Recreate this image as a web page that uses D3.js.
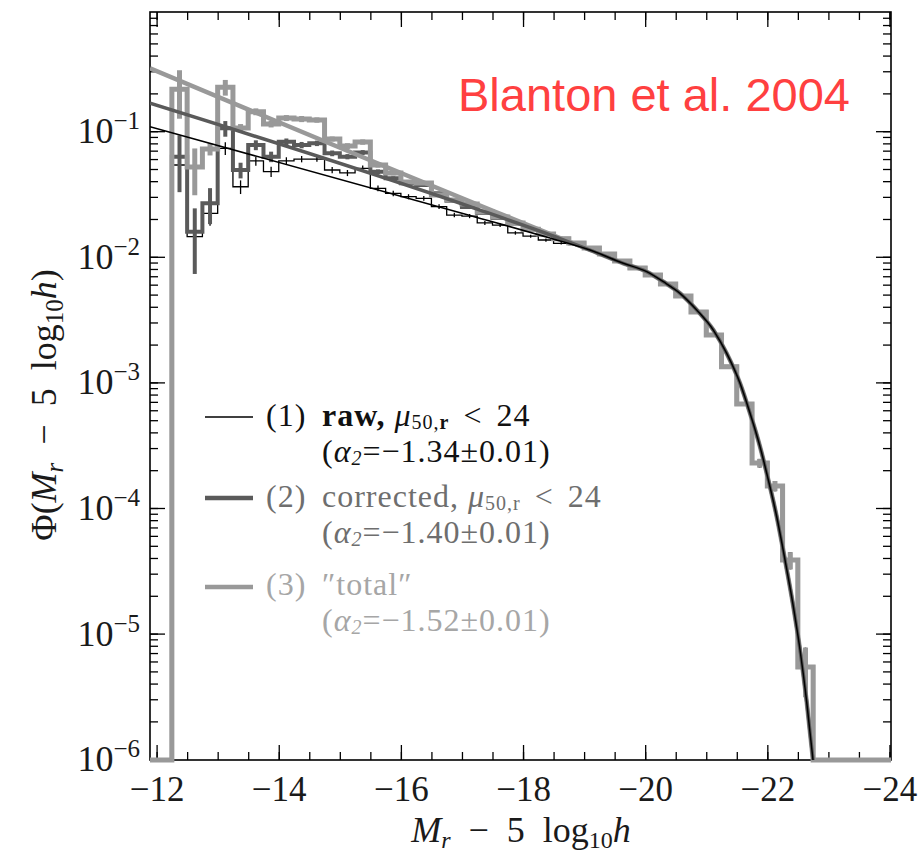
<!DOCTYPE html>
<html>
<head>
<meta charset="utf-8">
<script src="https://cdn.jsdelivr.net/npm/d3@7"></script>
<style>
  html, body { margin: 0; padding: 0; background: #fff; }
  svg { display: block; }
</style>
</head>
<body>
<svg id="chart" width="924" height="854"></svg>
<script>
// Galaxy luminosity function, 0.25 mag bins in M_r - 5 log10 h
const magBins = [
  -12.375, -12.625, -12.875, -13.125, -13.375, -13.625, -13.875, -14.125, -14.375, -14.625,
  -14.875, -15.125, -15.375, -15.625, -15.875, -16.125, -16.375, -16.625, -16.875, -17.125,
  -17.375, -17.625, -17.875, -18.125, -18.375, -18.625, -18.875, -19.125, -19.375, -19.625,
  -19.875, -20.125, -20.375, -20.625, -20.875, -21.125, -21.375, -21.625, -21.875, -22.125,
  -22.375, -22.625
];
const binWidth = 0.25;

// (1) raw, mu_50 < 24
const phiRaw = [
  0.0538, 0.0145, 0.0222, 0.0731, 0.0361, 0.0580, 0.0476, 0.0580, 0.0600, 0.0600,
  0.0491, 0.0465, 0.0506, 0.0351, 0.0320, 0.0301, 0.0292, 0.0251, 0.0215, 0.0211,
  0.0186, 0.0179, 0.0155, 0.0146, 0.0136, 0.0128, 0.0125, 0.01175, 0.01053, 0.00926,
  0.00814, 0.00716, 0.00607, 0.00487, 0.00363, 0.00238, 0.00133, 0.000673, 0.000228, 0.000150,
  3.85e-5, 5.42e-6
];
const errRaw = [
  0.010, 0.003, 0.0045, 0.0085, 0.0045, 0.005, 0.0045, 0.004, 0.0035, 0.003,
  0.0028, 0.0026, 0.0026, 0.0018, 0.0016, 0.0014, 0.0013, 0.0011, 0.0009, 0.0008,
  0.0007, 0.0006, 0.0005, 0.0004, 0.0004, 0.0003, 0.00025, 0.00014, 0.00012, 0.0001,
  0.00009, 0.00008, 0.00007, 0.00006, 0.00005, 0.00004, 0.00003, 0.00002, 0.000018, 0.000014,
  0.000006, 0.0000023
];

// (2) corrected, mu_50 < 24
const phiCorrected = [
  0.0627, 0.0158, 0.0267, 0.1054, 0.0491, 0.0776, 0.0627, 0.0825, 0.0776, 0.0801,
  0.0667, 0.0627, 0.0677, 0.0476, 0.0422, 0.0385, 0.0373, 0.0320, 0.0280, 0.0249,
  0.0223, 0.0204, 0.0184, 0.0165, 0.0151, 0.0139, 0.0129, 0.01175, 0.01053, 0.00926,
  0.00814, 0.00716, 0.00607, 0.00487, 0.00363, 0.00238, 0.00133, 0.000673, 0.000228, 0.000150,
  3.85e-5, 5.42e-6
];
const errCorrected = [
  0.030, 0.0085, 0.0085, 0.015, 0.007, 0.007, 0.006, 0.005, 0.0045, 0.004,
  0.0035, 0.003, 0.003, 0.002, 0.0015, 0.0012, 0.001, 0.0008, 0.0006, 0.0005,
  0.0004, 0.0003, 0.00025, 0.0002, 0.0002, 0.00018, 0.00016, 0.00014, 0.00012, 0.0001,
  0.00009, 0.00008, 0.00007, 0.00006, 0.00005, 0.00004, 0.00003, 0.00002, 0.000018, 0.000014,
  0.000006, 0.0000023
];

// (3) "total"
const phiTotal = [
  0.2157, 0.0519, 0.0721, 0.2239, 0.1060, 0.1430, 0.1141, 0.1274, 0.1251, 0.1228,
  0.0867, 0.0762, 0.0820, 0.0538, 0.0465, 0.0394, 0.0387, 0.0310, 0.0283, 0.0263,
  0.0227, 0.0207, 0.0186, 0.0166, 0.0152, 0.0139, 0.0129, 0.01175, 0.01053, 0.00926,
  0.00814, 0.00716, 0.00607, 0.00487, 0.00363, 0.00238, 0.00133, 0.000673, 0.000228, 0.000150,
  3.85e-5, 5.42e-6
];
const errTotal = [
  0.090, 0.021, 0.008, 0.032, 0.008, 0.009, 0.007, 0.007, 0.007, 0.006,
  0.004, 0.004, 0.004, 0.0025, 0.002, 0.0015, 0.0012, 0.0009, 0.0007, 0.0006,
  0.0005, 0.0004, 0.0003, 0.00025, 0.0002, 0.00018, 0.00016, 0.00014, 0.00012, 0.0001,
  0.00009, 0.00008, 0.00007, 0.00006, 0.00005, 0.00004, 0.00003, 0.00002, 0.000018, 0.000014,
  0.000006, 0.0000023
];

// Double-Schechter fits sampled as [M, Phi]: faint-end parts, then the common bright end
const fitRawFaint = [[-11.892, 0.1086], [-17.132, 0.02132], [-18.606, 0.01336]];
const fitCorrectedFaint = [[-11.892, 0.1668], [-17.132, 0.02506], [-18.606, 0.01398]];
const fitTotalFaint = [[-11.892, 0.3168], [-18.606, 0.01411]];
const fitBright = [
  [-19.097, 0.01132], [-19.642, 0.00888], [-20.025, 0.00761], [-20.297, 0.00633],
  [-20.570, 0.00512], [-20.844, 0.00377], [-21.116, 0.00261], [-21.335, 0.00170],
  [-21.553, 0.000984], [-21.717, 0.000568], [-21.880, 0.000308], [-21.990, 0.000189],
  [-22.154, 8.52e-5], [-22.290, 3.85e-5], [-22.426, 1.64e-5], [-22.536, 7.40e-6],
  [-22.645, 2.85e-6], [-22.748, 9.85e-7], [-22.797, 5.69e-7]
];

const xMajorTicks = [-12, -14, -16, -18, -20, -22, -24];
const xMinorTicks = [-12, -12.5, -13, -13.5, -14, -14.5, -15, -15.5, -16, -16.5, -17, -17.5,
  -18, -18.5, -19, -19.5, -20, -20.5, -21, -21.5, -22, -22.5, -23, -23.5, -24];
const yMajorTicks = [1e-6, 1e-5, 1e-4, 1e-3, 1e-2, 1e-1];

// ---- layout & styles ----
const serif = '"Liberation Serif", "Times New Roman", serif';
const plot = { left: 150, right: 891, top: 12, bottom: 760 };
const colRaw = "#000000", colCorr = "#5a5a5a", colTot = "#999999";

const svg = d3.select("#chart");

const x = d3.scaleLinear().domain([-11.892, -24.025]).range([plot.left, plot.right]);
const y = d3.scaleLog().domain([Math.pow(10, -6.0064), Math.pow(10, -0.051)]).range([plot.bottom, plot.top]);
const floorVal = y.domain()[0];

// ---- axes (ticks pointing inward on all four sides) ----
function styleAxis(g, width) {
  g.attr("font-family", null).attr("font-size", null);
  g.select(".domain").remove();
  g.selectAll(".tick line").attr("stroke", "#000").attr("stroke-width", width);
}
const axes = svg.append("g");

axes.append("g").attr("transform", `translate(0,${plot.bottom})`)
  .call(d3.axisBottom(x).tickValues(xMinorTicks).tickSizeInner(-8).tickSizeOuter(0).tickFormat(""))
  .call(g => styleAxis(g, 1.3));
const xLab = axes.append("g").attr("transform", `translate(0,${plot.bottom})`)
  .call(d3.axisBottom(x).tickValues(xMajorTicks).tickSizeInner(-15).tickSizeOuter(0).tickPadding(16).tickFormat(d3.format("d")))
  .call(g => styleAxis(g, 1.3));
xLab.selectAll(".tick text").attr("font-family", serif).attr("font-size", 35).attr("fill", "#1a1a1a");

axes.append("g").attr("transform", `translate(0,${plot.top})`)
  .call(d3.axisTop(x).tickValues(xMinorTicks).tickSizeInner(-8).tickSizeOuter(0).tickFormat(""))
  .call(g => styleAxis(g, 1.3));
axes.append("g").attr("transform", `translate(0,${plot.top})`)
  .call(d3.axisTop(x).tickValues(xMajorTicks).tickSizeInner(-15).tickSizeOuter(0).tickFormat(""))
  .call(g => styleAxis(g, 1.3));

const yAll = y.ticks();
axes.append("g").attr("transform", `translate(${plot.left},0)`)
  .call(d3.axisLeft(y).tickValues(yAll).tickSizeInner(-8).tickSizeOuter(0).tickFormat(""))
  .call(g => styleAxis(g, 1.3));
const yLab = axes.append("g").attr("transform", `translate(${plot.left},0)`)
  .call(d3.axisLeft(y).tickValues(yMajorTicks).tickSizeInner(-15).tickSizeOuter(0).tickPadding(10).tickFormat(() => "10"))
  .call(g => styleAxis(g, 1.3));
yLab.selectAll(".tick text")
  .attr("font-family", serif).attr("font-size", 36).attr("fill", "#1a1a1a")
  .append("tspan").attr("dy", -14).attr("font-size", 25)
  .text(d => "\u2212" + Math.round(-Math.log10(d)));

axes.append("g").attr("transform", `translate(${plot.right},0)`)
  .call(d3.axisRight(y).tickValues(yAll).tickSizeInner(-8).tickSizeOuter(0).tickFormat(""))
  .call(g => styleAxis(g, 1.3));
axes.append("g").attr("transform", `translate(${plot.right},0)`)
  .call(d3.axisRight(y).tickValues(yMajorTicks).tickSizeInner(-15).tickSizeOuter(0).tickFormat(""))
  .call(g => styleAxis(g, 1.3));

svg.append("rect")
  .attr("x", plot.left).attr("y", plot.top)
  .attr("width", plot.right - plot.left).attr("height", plot.bottom - plot.top)
  .attr("fill", "none").attr("stroke", "#000").attr("stroke-width", 1.6);

// ---- histograms with error bars ----
function stepPoints(vals) {
  const pts = [[x.domain()[0], floorVal], [magBins[0] + binWidth / 2, floorVal]];
  magBins.forEach((m, i) => {
    pts.push([m + binWidth / 2, vals[i]], [m - binWidth / 2, vals[i]]);
  });
  const lastEdge = magBins[magBins.length - 1] - binWidth / 2;
  pts.push([lastEdge, floorVal], [x.domain()[1], floorVal]);
  return pts;
}
const stepLine = d3.line().x(d => x(d[0])).y(d => y(Math.max(d[1], floorVal)));

function drawHistogram(vals, errs, color, width) {
  const g = svg.append("g");
  g.append("path")
    .attr("d", stepLine(stepPoints(vals)))
    .attr("fill", "none").attr("stroke", color).attr("stroke-width", width)
    .attr("stroke-linejoin", "miter").attr("stroke-linecap", "butt");
  g.selectAll("line")
    .data(magBins.map((m, i) => ({ m, v: vals[i], e: errs[i] })))
    .join("line")
    .attr("x1", d => x(d.m)).attr("x2", d => x(d.m))
    .attr("y1", d => y(Math.max(d.v - d.e, floorVal)))
    .attr("y2", d => y(d.v + d.e))
    .attr("stroke", color).attr("stroke-width", width);
}
drawHistogram(phiRaw, errRaw, colRaw, 1.3);
drawHistogram(phiCorrected, errCorrected, colCorr, 4);
drawHistogram(phiTotal, errTotal, colTot, 5);

// ---- fitted curves ----
svg.append("clipPath").attr("id", "plot-clip")
  .append("rect")
  .attr("x", plot.left).attr("y", plot.top)
  .attr("width", plot.right - plot.left).attr("height", plot.bottom - plot.top);

const fitLine = d3.line().x(d => x(d[0])).y(d => y(d[1])).curve(d3.curveMonotoneX);
const fits = svg.append("g").attr("clip-path", "url(#plot-clip)");
[
  [fitTotalFaint.concat(fitBright), colTot, 4.5],
  [fitCorrectedFaint.concat(fitBright), colCorr, 3.5],
  [fitRawFaint.concat(fitBright), colRaw, 1.5]
].forEach(([pts, color, w]) => {
  fits.append("path").attr("d", fitLine(pts))
    .attr("fill", "none").attr("stroke", color).attr("stroke-width", w);
});

// ---- rich text helper (italic / bold / subscript runs) ----
function rich(textSel, parts, subSize, subDrop) {
  let shift = 0;
  parts.forEach(p => {
    const ts = textSel.append("tspan").text(p.t);
    const target = p.sub ? subDrop : 0;
    if (target !== shift) { ts.attr("dy", target - shift); shift = target; }
    if (p.sub) ts.attr("font-size", subSize);
    if (p.i) ts.attr("font-style", "italic");
    if (p.b) ts.attr("font-weight", "bold");
    if (p.dx) ts.attr("dx", p.dx);
  });
}

// ---- axis titles ----
const xTitle = svg.append("text")
  .attr("x", 521).attr("y", 842).attr("text-anchor", "middle")
  .attr("font-family", serif).attr("font-size", 36).attr("fill", "#1a1a1a");
rich(xTitle, [
  { t: "M", i: true }, { t: "r", i: true, sub: true },
  { t: "\u2212", dx: 18 }, { t: "5", dx: 18 }, { t: "log", dx: 18 },
  { t: "10", sub: true }, { t: "h", i: true }
], 24, 6);

const yTitle = svg.append("text")
  .attr("transform", "translate(56,405) rotate(-90)").attr("text-anchor", "middle")
  .attr("font-family", serif).attr("font-size", 36).attr("fill", "#1a1a1a");
rich(yTitle, [
  { t: "\u03A6(" }, { t: "M", i: true }, { t: "r", i: true, sub: true },
  { t: "\u2212", dx: 18 }, { t: "5", dx: 18 }, { t: "log", dx: 18 },
  { t: "10", sub: true }, { t: "h", i: true }, { t: ")" }
], 25, 7);

// ---- legend ----
const legendRows = [
  { num: "(1)", color: colRaw, width: 1.5, text: "#111111", lineY: 417, base1: 426, base2: 462,
    parts: [{ t: "raw,", b: true }, { t: " " }, { t: "\u03BC", i: true }, { t: "50,", sub: true }, { t: "r", sub: true, b: true }, { t: "<", dx: 14 }, { t: "24", dx: 14 }],
    alpha: "1.34" },
  { num: "(2)", color: colCorr, width: 4.5, text: "#6e6e6e", lineY: 498, base1: 507, base2: 543,
    parts: [{ t: "corrected," }, { t: " " }, { t: "\u03BC", i: true }, { t: "50,r", sub: true }, { t: "<", dx: 14 }, { t: "24", dx: 14 }],
    alpha: "1.40" },
  { num: "(3)", color: colTot, width: 4.5, text: "#a6a6a6", lineY: 587, base1: 595, base2: 631,
    parts: [{ t: "\u2033total\u2033" }],
    alpha: "1.52" }
];

const legend = svg.append("g").attr("font-family", serif).attr("font-size", 32)
  .attr("letter-spacing", 1);
legendRows.forEach(r => {
  legend.append("line")
    .attr("x1", 205).attr("x2", 253).attr("y1", r.lineY).attr("y2", r.lineY)
    .attr("stroke", r.color).attr("stroke-width", r.width);
  legend.append("text").attr("x", 266).attr("y", r.base1).attr("fill", r.text).text(r.num);
  const t1 = legend.append("text").attr("x", 322).attr("y", r.base1).attr("fill", r.text);
  rich(t1, r.parts, 20, 3);
  const t2 = legend.append("text").attr("x", 322).attr("y", r.base2).attr("fill", r.text);
  rich(t2, [
    { t: "(" }, { t: "\u03B1", i: true }, { t: "2", i: true, sub: true },
    { t: "=\u2212" + r.alpha + "\u00B10.01)" }
  ], 20, 3);
});

// ---- annotation ----
svg.append("text")
  .attr("x", 458).attr("y", 111)
  .attr("font-family", '"Liberation Sans", Arial, sans-serif')
  .attr("font-size", 47).attr("fill", "#ff4040")
  .text("Blanton et al. 2004");
</script>
</body>
</html>
